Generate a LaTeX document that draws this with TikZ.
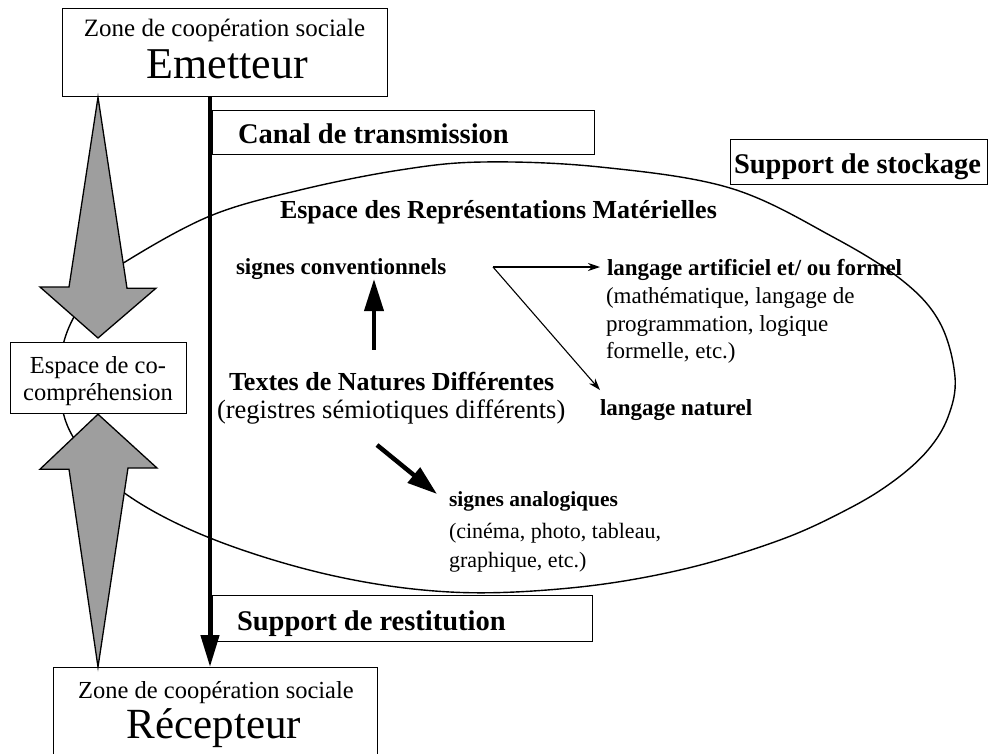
\documentclass[tikz,border=0pt]{standalone}
\usepackage{fontspec}
\setmainfont{Liberation Serif}
\usetikzlibrary{arrows.meta,calc}
\begin{document}
\begin{tikzpicture}[x=1pt,y=-1pt,
  tb/.style={inner sep=0pt, outer sep=0pt},
  bx/.style={draw, line width=1.2pt, fill=white, inner sep=0pt, anchor=north west},
  garrow/.style={draw, line width=1.3pt, fill=black!38, line join=miter},
  thinarr/.style={line width=1.1pt, -{Stealth[length=12pt,width=8pt]}},
  fatarr/.style={line width=4.5pt, -{Triangle[length=30pt,width=19pt]}},
  fbig/.style={font=\fontsize{44}{50}\selectfont},
  fzone/.style={font=\fontsize{25}{30}\selectfont},
  fhead/.style={font=\fontsize{28.5}{32}\selectfont\bfseries},
  fmid/.style={font=\fontsize{26}{30}\selectfont\bfseries},
  fmidr/.style={font=\fontsize{26.5}{30}\selectfont},
  flab/.style={font=\fontsize{23}{27}\selectfont\bfseries},
  fsmall/.style={font=\fontsize{23}{27}\selectfont},
]
\clip (0,0) rectangle (988,753);

% Espace des representations materielles (closed curve)
\draw[line width=1.4pt] plot[smooth cycle, tension=0.6] coordinates {
  (210,216) (300,190) (400,170) (483,162) (600,167) (730,188) (833,237)
  (903,281) (940,323) (955,377) (948,417) (928,450) (895,480) (850,508)
  (780,540) (680,570) (570,588) (450,592) (330,575) (210,538) (123,492)
  (75,440) (60,395) (62,350) (75,315) (98,285) (125,262)};

% boxes
\node[bx, minimum width=325pt, minimum height=88pt] (topbox) at (62,8) {};
\node[bx, minimum width=324pt, minimum height=120pt] (botbox) at (53,667) {};
\node[bx, minimum width=176pt, minimum height=71pt] (espbox) at (10,342) {};
\node[bx, minimum width=382pt, minimum height=44pt] (canalbox) at (212,110) {};
\node[bx, minimum width=380pt, minimum height=46pt] (restbox) at (212,595) {};
\node[bx, minimum width=257pt, minimum height=45pt] (stockbox) at (730,139) {};

% big grey arrows
\coordinate (ax) at (98,0);
\draw[garrow] (ax |- topbox.south) -- ++(29,191) -- ++(29,0)
  -- ($(ax |- espbox.north)+(0,-4)$) -- ++(-58,-51) -- ++(29,0) -- cycle;
\draw[garrow] (ax |- botbox.north) -- ++(30,-199) -- ++(29,0)
  -- (ax |- espbox.south) -- ++(-58,55) -- ++(29,0) -- cycle;

% transmission line
\coordinate (vx) at (210,0);
\draw[line width=4.5pt, -{Triangle[length=32pt,width=18pt]}]
  (vx |- topbox.south) -- (vx |- botbox.north);

% texts
\node[tb, anchor=base, fzone] (zone1) at (224.5,36) {Zone de coopération sociale};
\node[tb, anchor=base, fbig] (emet) at (227,78) {Emetteur};
\node[tb, anchor=base, font=\fontsize{24.5}{30}\selectfont] (zone2) at (216,698) {Zone de coopération sociale};
\node[tb, anchor=base, font=\fontsize{43}{50}\selectfont] (recep) at (214,738) {Récepteur};
\node[tb, anchor=base, font=\fontsize{24.5}{30}\selectfont] (esp1) at (98,373) {Espace de co-};
\node[tb, anchor=base, font=\fontsize{24.5}{30}\selectfont] (esp2) at (98,400) {compréhension};

\node[tb, anchor=base west, fhead] (canal) at (238,143) {Canal de transmission};
\node[tb, anchor=base west, fhead] (stock) at (734,173) {Support de stockage};
\node[tb, anchor=base west, fhead] (rest) at (237,630) {Support de restitution};

\node[tb, anchor=base west, fmid] (erm) at (280,218) {Espace des Représentations Matérielles};
\node[tb, anchor=base west, flab] (sconv) at (236,274) {signes conventionnels};
\node[tb, anchor=base west, fmid] (textes) at (229,390) {Textes de Natures Différentes};
\node[tb, anchor=base west, fmidr] (regis) at (217,418) {(registres sémiotiques différents)};

\node[tb, anchor=base west, flab] (langart) at (607,275) {langage artificiel et/ ou formel};
\node[tb, anchor=base west, fsmall] (m1) at (606,303) {(mathématique, langage de};
\node[tb, anchor=base west, fsmall] (m2) at (606,331) {programmation, logique};
\node[tb, anchor=base west, fsmall] (m3) at (606,358) {formelle, etc.)};
\node[tb, anchor=base west, flab] (langnat) at (600,415) {langage naturel};

\node[tb, anchor=base west, font=\fontsize{21.5}{26}\selectfont\bfseries] (sana) at (449,506) {signes analogiques};
\node[tb, anchor=base west, font=\fontsize{22}{26}\selectfont] (c1) at (449,538) {(cinéma, photo, tableau,};
\node[tb, anchor=base west, font=\fontsize{22}{26}\selectfont] (c2) at (449,567) {graphique, etc.)};

% arrows inside
\coordinate (fork) at (493,267);
\draw[thinarr, shorten >=7pt] (fork) -- (fork -| langart.west);
\draw[thinarr] (fork) -- ([yshift=9pt]langnat.north west);

\coordinate (ux) at (374,0);
\draw[line width=4pt, -{Triangle[length=32pt,width=19pt]}, shorten <=22pt]
  (ux |- textes.north) -- (ux |- sconv.south);

\coordinate (dA) at (377,445);
\coordinate (dB) at (437,494);
\draw[fatarr] (dA) -- (dB);
\end{tikzpicture}
\end{document}
